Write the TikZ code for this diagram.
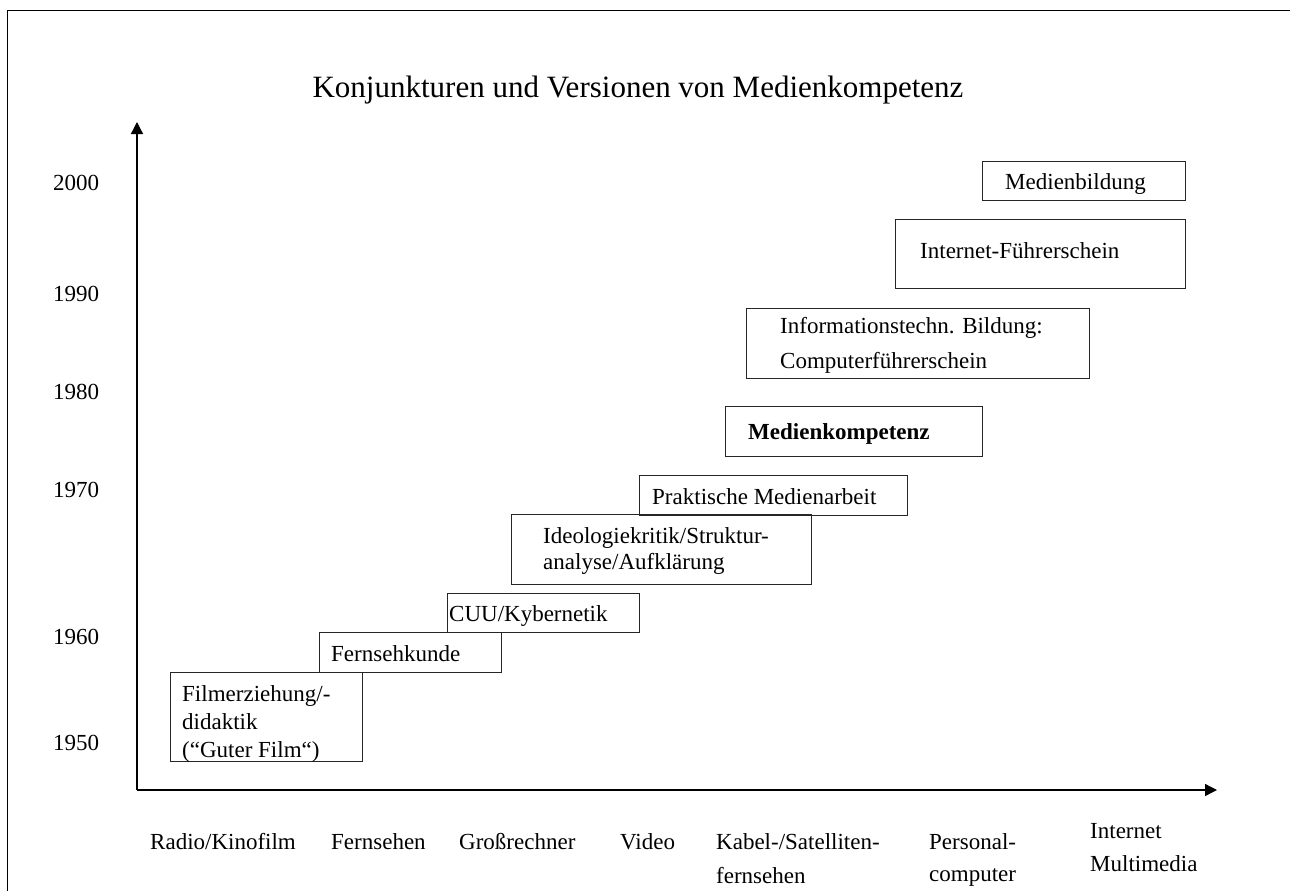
\documentclass[tikz,border=0pt]{standalone}
\usepackage{fontspec}
\setmainfont{Liberation Serif}
\usetikzlibrary{arrows.meta}
\tikzset{
  frameline/.style={line width=1pt, black},
  axis/.style={line width=1.3pt, black, -{Triangle[length=12pt,width=12pt]}},
  box/.style={draw=black!85, line width=1pt, rectangle, inner sep=0pt, anchor=north west},
  lbl/.style={font=\fontsize{23}{28}\selectfont, inner sep=0pt, anchor=base west},
  yr/.style={font=\fontsize{23}{28}\selectfont, inner sep=0pt, anchor=base},
  ttl/.style={font=\fontsize{31}{36}\selectfont, inner sep=0pt, anchor=base},
}
\begin{document}
\begin{tikzpicture}[x=1pt,y=-1pt]
\useasboundingbox (0,0) rectangle (1290,891);
% frame
\coordinate (f1) at (7,891);
\coordinate (f2) at (7,11);
\coordinate (f3) at (1291,11);
\draw[frameline] (f1) -- (f2) -- (f3);
% title
\node[ttl] (title) at (638,97) {Konjunkturen und Versionen von Medienkompetenz};
% axes
\coordinate (o) at (137,790);
\coordinate (ytip) at (137,122);
\coordinate (xtip) at (1217,790);
\draw[axis] (o) -- (ytip);
\draw[axis] (o) -- (xtip);
% years
\node[yr] (y2000) at (76,190) {2000};
\node[yr] (y1990) at (76,301) {1990};
\node[yr] (y1980) at (76,399) {1980};
\node[yr] (y1970) at (76,497) {1970};
\node[yr] (y1960) at (76,644) {1960};
\node[yr] (y1950) at (76,750) {1950};
% boxes
\node[box, minimum width=192, minimum height=89] (b1) at (170,672) {};
\node[lbl] (t1a) at (182,701) {Filmerziehung/-};
\node[lbl] (t1b) at (182,729) {didaktik};
\node[lbl] (t1c) at (182,757) {(“Guter Film“)};
\node[box, minimum width=182, minimum height=40] (b2) at (319,632) {};
\node[lbl] (t2) at (331,661) {Fernsehkunde};
\node[box, minimum width=192, minimum height=39] (b3) at (447,593) {};
\node[lbl] (t3) at (449,621) {CUU/Kybernetik};
\node[box, minimum width=300, minimum height=70] (b4) at (511,514) {};
\node[lbl] (t4a) at (543,543) {Ideologiekritik/Struktur-};
\node[lbl] (t4b) at (543,569) {analyse/Aufklärung};
\node[box, minimum width=268, minimum height=40] (b5) at (639,475) {};
\node[lbl] (t5) at (652,504) {Praktische Medienarbeit};
\node[box, minimum width=257, minimum height=50] (b6) at (725,406) {};
\node[lbl, font=\fontsize{23}{28}\selectfont\bfseries] (t6) at (748,439) {Medienkompetenz};
\node[box, minimum width=343, minimum height=70] (b7) at (746,308) {};
\node[lbl] (t7a) at (780,333) {Informationstechn. Bildung:};
\node[lbl] (t7b) at (780,368) {Computerführerschein};
\node[box, minimum width=290, minimum height=69] (b8) at (895,219) {};
\node[lbl] (t8) at (920,258) {Internet-Führerschein};
\node[box, minimum width=203, minimum height=39] (b9) at (982,161) {};
\node[lbl] (t9) at (1005,189) {Medienbildung};
% bottom labels
\node[lbl] (m1) at (150,849) {Radio/Kinofilm};
\node[lbl] (m2) at (331,849) {Fernsehen};
\node[lbl] (m3) at (459,849) {Großrechner};
\node[lbl] (m4) at (620,849) {Video};
\node[lbl] (m5a) at (716,849) {Kabel-/Satelliten-};
\node[lbl] (m5b) at (716,883) {fernsehen};
\node[lbl] (m6a) at (929,849) {Personal-};
\node[lbl] (m6b) at (929,881) {computer};
\node[lbl] (m7a) at (1090,838) {Internet};
\node[lbl] (m7b) at (1090,871) {Multimedia};
\end{tikzpicture}
\end{document}
